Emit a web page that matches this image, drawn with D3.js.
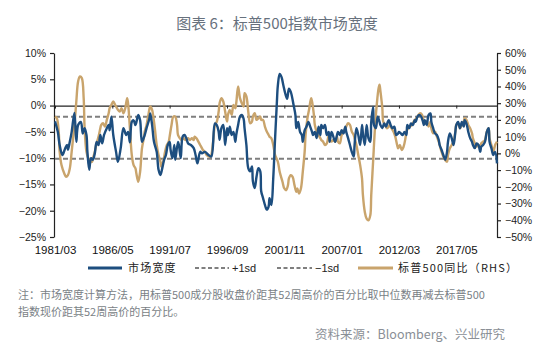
<!DOCTYPE html>
<html><head><meta charset="utf-8">
<script src="https://cdn.jsdelivr.net/npm/d3@7/dist/d3.min.js"></script>
<style>
html,body{margin:0;padding:0;background:#fff;}
svg{display:block;}
</style></head>
<body>
<svg id="c" width="554" height="359"></svg>
<script>
// ---------- DATA ----------
const title = "图表 6：标普500指数市场宽度";
const xTickLabels = ["1981/03","1986/05","1991/07","1996/09","2001/11","2007/01","2012/03","2017/05"];
const leftTicks = [10,5,0,-5,-10,-15,-20,-25];
const rightTicks = [60,50,40,30,20,10,0,-10,-20,-30,-40,-50];
const plusSd = -2.15;
const minusSd = -10.1;
const seriesNames = ["市场宽度","+1sd","-1sd","标普500同比（RHS）"];

const breadthDates = ["1981-03","1981-06","1981-08","1981-11","1982-02","1982-04","1982-05","1982-07","1982-09","1982-12",
"1983-02","1983-04","1983-07","1983-09","1983-11","1984-01","1984-02","1984-04","1984-06","1984-08","1984-10","1984-12",
"1985-02","1985-04","1985-06","1985-08","1985-11","1986-01","1986-02","1986-04","1986-06","1986-09","1986-11",
"1987-02","1987-05","1987-08","1987-10","1987-12","1988-02","1988-04","1988-06","1988-09","1988-11",
"1989-01","1989-04","1989-06","1989-09","1989-10","1989-12","1990-02","1990-05","1990-07","1990-09","1990-11",
"1991-01","1991-03","1991-05","1991-07","1991-08","1991-10","1991-12","1992-01","1992-04","1992-05","1992-07","1992-09","1992-11",
"1993-01","1993-03","1993-06","1993-09","1993-11","1994-01","1994-04","1994-06","1994-09","1995-01","1995-04","1995-08","1995-10","1995-12",
"1996-01","1996-03","1996-05","1996-07","1996-09","1996-10","1996-12","1997-02","1997-04","1997-06","1997-07","1997-09","1997-11",
"1998-01","1998-03","1998-04","1998-06","1998-08","1998-10","1998-12","1999-01","1999-03","1999-05","1999-07","1999-09","1999-10","1999-12",
"2000-02","2000-04","2000-06","2000-07","2000-09","2000-11","2001-01","2001-03","2001-04","2001-06","2001-08","2001-10","2001-12",
"2002-02","2002-04","2002-06","2002-09","2002-11","2002-12","2003-02","2003-04","2003-06","2003-07","2003-09","2003-11",
"2004-01","2004-03","2004-05","2004-06","2004-08","2004-10","2004-12","2005-02","2005-03","2005-05","2005-07","2005-09","2005-11","2005-12",
"2006-02","2006-04","2006-06","2006-08","2006-09","2006-11","2007-01","2007-03","2007-05","2007-06","2007-08","2007-10","2007-12",
"2008-02","2008-03","2008-05","2008-07","2008-09","2008-11","2008-12","2009-02","2009-04","2009-06","2009-08","2009-09","2009-11","2009-12",
"2010-02","2010-04","2010-06","2010-07","2010-09","2010-11","2011-01","2011-03","2011-04","2011-06","2011-08","2011-10","2011-12",
"2012-02","2012-03","2012-05","2012-07","2012-09","2012-11","2012-12","2013-02","2013-04","2013-06","2013-08","2013-09","2013-11",
"2014-01","2014-03","2014-05","2014-06","2014-07","2014-09","2014-11","2015-01","2015-02","2015-04","2015-06","2015-08","2015-10","2015-11",
"2016-01","2016-03","2016-05","2016-07","2016-08","2016-10","2016-12","2017-02","2017-04","2017-05","2017-07","2017-09","2017-11",
"2018-01","2018-02","2018-04","2018-06","2018-08","2018-10","2018-11","2019-01","2019-03","2019-05","2019-07","2019-08","2019-10","2019-12",
"2020-02","2020-04","2020-05","2020-07","2020-09","2020-11","2021-01"];
const breadthValues = [-3.0,-5.0,-7.5,-9.4,-8.1,-7.5,-8.4,-6.9,-5.0,-1.4,
-6.9,-3.7,-3.1,-5.3,-4.3,-5.6,-8.8,-12.2,-10.0,-10.3,-9.1,-6.9,
-7.5,-5.6,-7.2,-5.6,-4.3,-3.7,-4.7,-2.1,-5.6,-8.8,-10.7,
-8.1,-4.3,-5.6,-5.0,-7.0,-3.1,-2.8,-3.7,-1.8,-2.8,
-6.9,-5.6,-4.3,-2.5,-1.5,-3.7,-6.9,-8.8,-12.2,-13.2,-11.9,
-10.3,-9.4,-7.5,-6.9,-8.4,-10.0,-7.5,-10.3,-6.9,-7.5,-10.0,-5.9,-5.6,
-6.2,-7.2,-7.5,-8.1,-9.4,-11.0,-8.8,-9.1,-8.8,-9.4,-9.7,-3.4,-3.7,-5.0,
-6.5,-4.3,-3.7,-7.5,-4.3,-5.6,-4.0,-5.6,-5.0,-6.9,-5.6,-3.7,-2.1,
-1.8,-2.5,-4.3,-7.5,-11.9,-12.5,-11.6,-14.4,-15.7,-13.5,-11.9,-12.5,-16.3,-17.6,
-18.9,-19.8,-19.2,-17.6,-18.9,-13.8,-6.2,0.7,3.8,6.0,5.4,3.8,2.3,
1.3,3.2,2.6,0.1,-1.8,-4.3,-3.1,-5.0,-5.6,-6.9,-4.7,-4.0,
-3.1,-4.0,-5.0,-5.6,-5.0,-6.2,-4.0,-5.6,-3.7,-4.3,-3.7,-5.6,-5.0,-6.9,
-5.0,-5.9,-6.9,-5.6,-5.0,-5.6,-4.7,-5.3,-4.0,-5.0,-6.2,-7.5,-8.8,
-9.7,-7.5,-4.3,-5.6,-7.5,-3.7,-5.3,-7.5,-3.7,-6.2,-6.9,-3.1,-0.3,-3.7,
-4.3,-2.1,-3.1,-3.7,-4.3,-3.4,-4.0,-3.1,-2.8,-3.7,-4.3,-4.0,-5.6,
-5.3,-5.0,-5.3,-5.6,-5.0,-5.6,-3.7,-4.3,-3.4,-3.7,-2.8,-3.1,-2.1,
-1.8,-2.1,-3.1,-3.7,-2.8,-3.7,-1.8,-1.5,-3.1,-4.3,-5.3,-5.6,-6.5,-7.5,
-8.4,-9.4,-10.3,-8.8,-6.9,-5.3,-6.2,-7.5,-5.0,-3.7,-3.1,-4.3,-3.1,
-4.0,-2.8,-3.4,-5.0,-6.2,-6.9,-7.5,-8.1,-7.2,-7.5,-8.8,-7.8,-7.5,-6.9,
-5.0,-4.3,-6.9,-8.1,-9.4,-8.8,-11.0];

const spxDates = ["1981-03","1981-05","1981-07","1981-08","1981-10","1982-01","1982-03","1982-05","1982-07","1982-09","1982-12",
"1983-02","1983-04","1983-06","1983-08","1983-10","1983-11","1984-01","1984-03","1984-05","1984-07","1984-08","1984-10","1984-12",
"1985-02","1985-04","1985-05","1985-07","1985-09","1985-11","1986-01","1986-02","1986-04","1986-06","1986-08","1986-10","1986-11",
"1987-01","1987-03","1987-05","1987-07","1987-09","1987-10","1987-12","1988-02","1988-04","1988-06","1988-07","1988-09","1988-11",
"1989-01","1989-03","1989-04","1989-06","1989-08","1989-10","1989-12","1990-01","1990-03","1990-05","1990-07","1990-09","1990-10","1990-12",
"1991-02","1991-04","1991-06","1991-07","1991-09","1991-11","1992-01","1992-03","1992-04","1992-06","1992-08","1992-10","1992-12",
"1993-01","1993-03","1993-05","1993-07","1993-09","1993-10","1993-12","1994-02","1994-04","1994-06","1994-07","1994-09","1994-11",
"1995-03","1995-06","1995-08","1995-10","1995-12","1996-01","1996-03","1996-05","1996-07","1996-09","1996-10","1996-12",
"1997-02","1997-04","1997-06","1997-07","1997-09","1997-11","1998-01","1998-03","1998-04","1998-06","1998-08","1998-10","1998-12",
"1999-01","1999-03","1999-05","1999-07","1999-09","1999-10","1999-12","2000-02","2000-04","2000-06","2000-07","2000-09","2000-11",
"2001-01","2001-04","2001-06","2001-09","2001-11","2002-01","2002-03","2002-04","2002-06","2002-08","2002-10","2002-12",
"2003-01","2003-03","2003-05","2003-07","2003-09","2003-10","2003-12","2004-02","2004-04","2004-05","2004-07","2004-08","2004-10","2004-12",
"2005-02","2005-03","2005-05","2005-07","2005-09","2005-11","2005-12","2006-02","2006-04","2006-06","2006-08","2006-09","2006-11",
"2007-01","2007-03","2007-05","2007-06","2007-08","2007-10","2007-12","2008-02","2008-03","2008-05","2008-07","2008-09","2008-11","2008-12",
"2009-02","2009-04","2009-06","2009-08","2009-09","2009-11","2010-01","2010-03","2010-05","2010-06","2010-07","2010-09","2010-10","2010-12",
"2011-02","2011-04","2011-05","2011-07","2011-09","2011-11","2012-01","2012-02","2012-04","2012-06","2012-08","2012-10","2012-11",
"2013-01","2013-03","2013-05","2013-07","2013-08","2013-10","2013-12","2014-02","2014-04","2014-05","2014-07","2014-09","2014-11",
"2015-01","2015-02","2015-04","2015-06","2015-08","2015-10","2015-11","2016-01","2016-03","2016-05","2016-07","2016-08","2016-10","2016-12",
"2017-02","2017-04","2017-05","2017-07","2017-09","2017-11","2018-01","2018-02","2018-04","2018-06","2018-08","2018-10","2018-11",
"2019-01","2019-03","2019-05","2019-07","2019-08","2019-10","2019-12","2020-02","2020-04","2020-05","2020-07","2020-09","2020-11","2021-01"];
const spxValues = [22,21,13,1,-7,-12,-14,-13,-9,1,17,
31,43,46,45,33,15,1,-3,-5,-5,-3,1,6,
10,15,17,18,16,20,24,27,29,31,29,27,26,
25,27,24,27,33,30,15,-1,-7,-9,-12,-17,-11,
3,9,13,17,23,28,26,23,15,5,-1,-5,-8,-5,
1,5,7,10,17,22,22,17,11,9,8,9,8,
8,9,8,9,8,10,9,7,5,3,2,1,-1,
-2,7,17,19,25,30,33,31,25,19,23,26,
23,29,27,30,40,33,30,28,36,34,25,18,19,
22,24,20,21,22,20,20,16,13,11,10,9,5,
-1,-5,-11,-17,-21,-22,-19,-15,-13,-14,-19,-23,
-21,-24,-21,-11,1,11,21,27,33,31,23,17,13,11,
9,8,7,5,6,11,8,7,8,7,10,7,6,
11,13,15,16,18,17,13,11,9,5,-1,-7,-15,-25,
-35,-39,-40,-37,-25,-5,15,29,39,41,37,27,19,17,
15,16,17,15,13,10,5,3,5,2,4,9,13,
15,16,17,19,20,21,23,24,23,21,19,19,16,
19,15,12,13,10,7,5,1,-2,-4,-5,-1,3,5,
7,13,17,18,15,17,19,21,20,17,15,12,9,
6,4,5,3,6,7,8,13,15,9,5,1,5,7];

const noteLines = ["注：市场宽度计算方法，用标普500成分股收盘价距其52周高价的百分比取中位数再减去标普500",
                   "指数现价距其52周高价的百分比。"];
const sourceText = "资料来源：Bloomberg、兴业研究";

// ---------- DRAW ----------
const svg = d3.select("#c");
svg.append("rect").attr("width",554).attr("height",359).attr("fill","#fff");

const parseM = d3.timeParse("%Y-%m");
const parseT = d3.timeParse("%Y/%m");
const blue = "#1d4e7f", gold = "#c9a46c", grayDash = "#7f7f7f";
const latin = "Liberation Sans, Arial, sans-serif";
const cjk = "'Noto Sans CJK SC', 'Noto Sans', sans-serif";

const x = d3.scaleTime().domain([parseM("1981-03"), parseM("2021-01")]).range([55, 497]);
const yL = d3.scaleLinear().domain([-25, 10]).range([237, 53]);
const yR = d3.scaleLinear().domain([-50, 60]).range([237, 53]);
const fmt = d => (d < 0 ? "\u2212" : "") + Math.abs(d) + "%";

// title
svg.append("text").attr("x", 277).attr("y", 29).attr("text-anchor","middle")
  .attr("font-family", cjk).attr("font-size", 15).attr("fill", "#67717d").text(title);

// left axis
const gL = svg.append("g").attr("transform","translate(54,0)")
  .call(d3.axisLeft(yL).tickValues(leftTicks).tickSize(4).tickSizeOuter(0).tickPadding(4).tickFormat(fmt));
// right axis
const gR = svg.append("g").attr("transform","translate(497,0)")
  .call(d3.axisRight(yR).tickValues(rightTicks).tickSize(4).tickSizeOuter(0).tickPadding(4).tickFormat(fmt));
[gL, gR].forEach(g => {
  g.selectAll("path.domain").attr("stroke","#222").attr("stroke-width",1.2);
  g.selectAll("line").attr("stroke","#222").attr("stroke-width",1.2);
  g.selectAll("text").attr("font-family", latin).attr("font-size", 10.5).attr("fill","#222");
});

// sd lines
[plusSd, minusSd].forEach(v => {
  svg.append("line").attr("x1", 55).attr("x2", 497).attr("y1", yL(v)).attr("y2", yL(v))
    .attr("stroke", grayDash).attr("stroke-width", 2).attr("stroke-dasharray","5,3");
});

// zero line with ticks
const tickDates = xTickLabels.map(parseT);
const gZ = svg.append("g").attr("transform", `translate(0,${yL(0)})`)
  .call(d3.axisBottom(x).tickValues(tickDates).tickSize(3).tickSizeOuter(0).tickFormat(""));
gZ.selectAll("path.domain").attr("stroke","#222").attr("stroke-width",1.3);
gZ.selectAll("line").attr("stroke","#222").attr("stroke-width",1);

// x labels at bottom
const gX = svg.append("g").attr("transform","translate(0,237)")
  .call(d3.axisBottom(x).tickValues(tickDates).tickSize(0).tickPadding(9).tickFormat(d3.timeFormat("%Y/%m")));
gX.select("path.domain").remove();
gX.selectAll("text").attr("font-family", latin).attr("font-size", 11.5).attr("fill","#111");

// lines
const spxData = spxDates.map((d,i) => ({d: parseM(d), v: spxValues[i]}));
const brData = breadthDates.map((d,i) => ({d: parseM(d), v: breadthValues[i]}));
svg.append("path").datum(spxData)
  .attr("d", d3.line().x(p => x(p.d)).y(p => yR(p.v)).curve(d3.curveCatmullRom.alpha(0.5)))
  .attr("fill","none").attr("stroke", gold).attr("stroke-width", 2.4).attr("stroke-linejoin","round");
svg.append("path").datum(brData)
  .attr("d", d3.line().x(p => x(p.d)).y(p => yL(p.v)).curve(d3.curveCatmullRom.alpha(0.5)))
  .attr("fill","none").attr("stroke", blue).attr("stroke-width", 2.4).attr("stroke-linejoin","round");

// legend
const ly = 268;
const leg = svg.append("g");
const items = [
  {x1: 88, x2: 122, tx: 128, color: blue, dash: null, w: 3, label: seriesNames[0], font: cjk},
  {x1: 195, x2: 229, tx: 232, color: grayDash, dash: "4,2.5", w: 2, label: seriesNames[1], font: latin},
  {x1: 277, x2: 312, tx: 315, color: grayDash, dash: "4,2.5", w: 2, label: "\u2212" + "1sd", font: latin},
  {x1: 358, x2: 393, tx: 398, color: gold, dash: null, w: 3, label: seriesNames[3], font: cjk}
];
items.forEach(it => {
  leg.append("line").attr("x1", it.x1).attr("x2", it.x2).attr("y1", ly).attr("y2", ly)
    .attr("stroke", it.color).attr("stroke-width", it.w).attr("stroke-dasharray", it.dash);
  leg.append("text").attr("x", it.tx).attr("y", ly + 4).attr("font-family", it.font)
    .attr("font-size", 11).attr("letter-spacing", it.font === cjk ? 1.2 : 0).attr("fill","#222").text(it.label);
});

// note and source
noteLines.forEach((t,i) => {
  svg.append("text").attr("x", 18).attr("y", 299 + i*17).attr("font-family", cjk)
    .attr("font-size", 11).attr("fill", "#7a7f86").text(t);
});
svg.append("text").attr("x", 505).attr("y", 339).attr("text-anchor","end").attr("font-family", cjk)
  .attr("font-size", 12.5).attr("fill", "#8a8f96").text(sourceText);
</script>
</body></html>
